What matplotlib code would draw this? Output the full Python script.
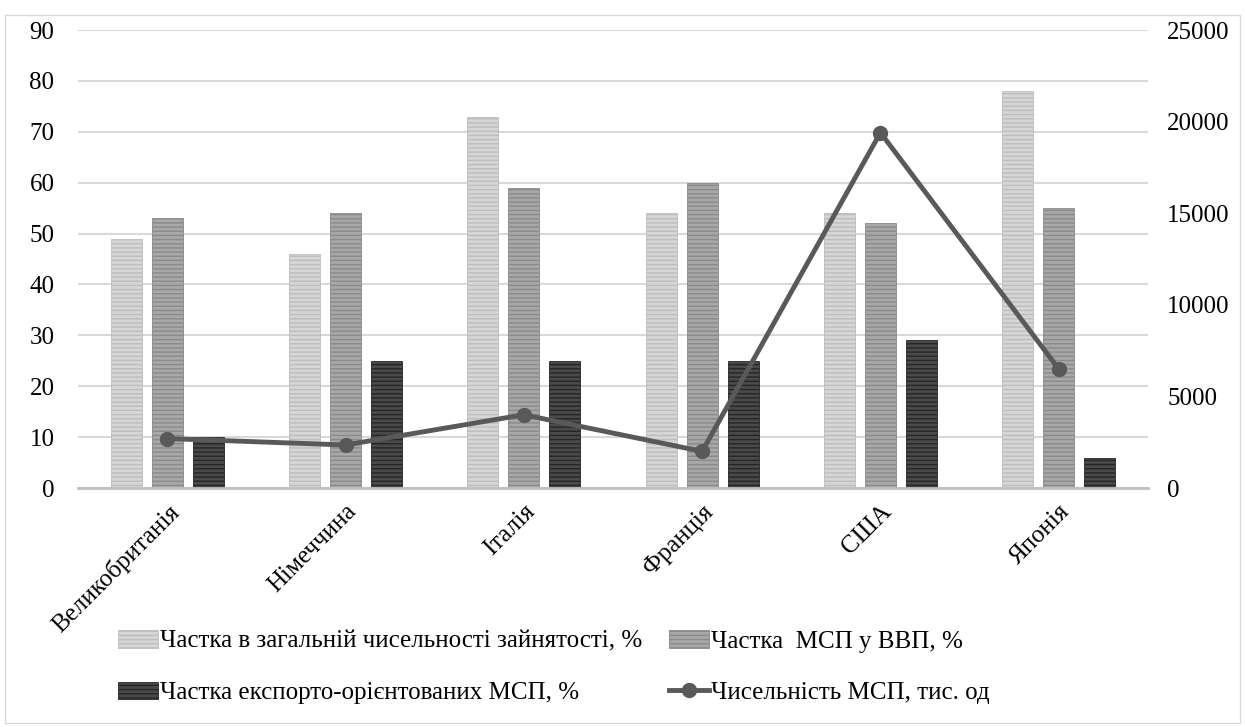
import matplotlib.pyplot as plt
import numpy as np
from matplotlib.patches import Rectangle

plt.rcParams['font.family'] = ['Liberation Serif', 'DejaVu Serif']
plt.rcParams['hatch.linewidth'] = 1.0

countries = ['Великобританія', 'Німеччина', 'Італія', 'Франція', 'США', 'Японія']
employment_share = [49, 46, 73, 54, 54, 78]
gdp_share = [53, 54, 59, 60, 52, 55]
export_share = [10, 25, 25, 25, 29, 6]
sme_count = [2700, 2350, 4000, 2000, 19400, 6500]

labels = ['Частка в загальній чисельності зайнятості, %',
          'Частка  МСП у ВВП, %',
          'Частка експорто-орієнтованих МСП, %',
          'Чисельність МСП, тис. од']

fig = plt.figure(figsize=(12.45, 7.27), dpi=100)
ax = fig.add_axes([0.0627, 0.3287, 0.8593, 0.63])

x = np.arange(len(countries))
w = 0.175
off = 0.23
styles = [('#d6d6d6', '#bdbdbd'), ('#a8a8a8', '#8a8a8a'), ('#4a4a4a', '#262626')]
series = [employment_share, gdp_share, export_share]
bars = []
for i, (vals, (fc, hc)) in enumerate(zip(series, styles)):
    b = ax.bar(x + (i - 1) * off, vals, w, color=fc, edgecolor=hc,
               hatch='----', linewidth=0.6, zorder=2)
    bars.append(b)

ax.set_xlim(-0.5, len(countries) - 0.5)
ax.set_ylim(0, 90)
ax.set_yticks(range(0, 91, 10))
ax.grid(axis='y', color='#d9d9d9', linewidth=1.5, zorder=0)
ax.set_axisbelow(True)
for s in ['top', 'left', 'right']:
    ax.spines[s].set_visible(False)
ax.spines['bottom'].set_color('#bfbfbf')
ax.spines['bottom'].set_linewidth(2)
ax.tick_params(axis='both', length=0, labelsize=18, colors='black')
ax.tick_params(axis='y', pad=17)
ax.tick_params(axis='x', pad=9)
ax.set_xticks(x)
ax.set_xticklabels(countries, rotation=45, ha='right', rotation_mode='anchor',
                   fontsize=18)

ax2 = ax.twinx()
ax2.set_ylim(0, 25000)
ax2.set_yticks(range(0, 25001, 5000))
line, = ax2.plot(x, sme_count, color='#595959', linewidth=3.5, marker='o',
                 markersize=10, zorder=3)
for s in ax2.spines.values():
    s.set_visible(False)
ax2.tick_params(axis='y', length=0, labelsize=18, pad=14)

fig.legend([bars[0], bars[2], bars[1], line],
           [labels[0], labels[2], labels[1], labels[3]], ncol=2,
           loc='lower left', bbox_to_anchor=(0.079, 0.004), frameon=False,
           fontsize=18, handlelength=1.6, handletextpad=0.05,
           columnspacing=1.1, labelspacing=1.15, borderpad=0.3)

fig.patches.append(Rectangle((0.004, 0.005), 0.992, 0.975, transform=fig.transFigure,
                             fill=False, edgecolor='#d9d9d9', linewidth=1))

fig.savefig('out.png', dpi=100)
